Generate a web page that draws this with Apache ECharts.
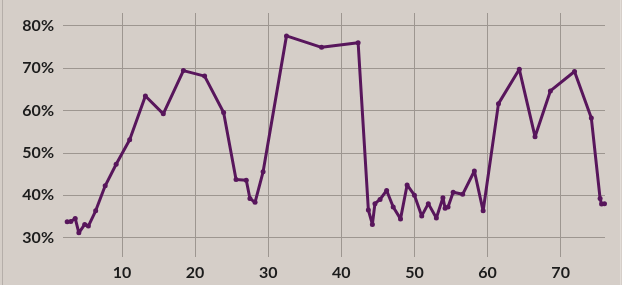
<!DOCTYPE html>
<html><head><meta charset="utf-8">
<script src="https://cdn.jsdelivr.net/npm/echarts@6/dist/echarts.min.js"></script>
<style>html,body{margin:0;padding:0;background:#d5cec8}#c{width:622px;height:285px}</style>
</head><body><div id="c"></div>
<script>
const xValues = [2.5,3.0,3.6,4.1,4.9,5.4,6.4,7.7,9.2,11.05,13.2,15.65,18.4,21.3,23.9,25.6,27.0,27.5,28.2,29.3,32.5,37.3,42.3,43.7,44.25,44.6,45.3,46.2,47.1,48.1,49.0,50.0,51.0,51.9,53.0,53.9,54.2,54.6,55.3,56.6,58.2,59.4,61.5,64.35,66.5,68.6,71.9,74.2,75.4,75.6,76.0];
const yValues = [33.7,33.8,34.5,31.1,33.1,32.7,36.3,42.2,47.3,53.1,63.4,59.2,69.4,68.1,59.5,43.7,43.5,39.2,38.3,45.5,77.6,74.9,76.0,36.5,33.1,38.0,39.0,41.1,37.2,34.4,42.4,40.0,35.1,38.0,34.6,39.4,36.9,37.2,40.7,40.2,45.7,36.3,61.6,69.7,53.8,64.6,69.2,58.2,39.2,37.9,38.0];
const xTicks = [10,20,30,40,50,60,70];
const yTicks = [30,40,50,60,70,80];

const chart = echarts.init(document.getElementById('c'), null, {renderer:'canvas'});
const grid = '#9d9690';
chart.setOption({
  backgroundColor:'#d5cec8',
  animation:false,
  grid:{left:63,right:17,top:13,bottom:28,containLabel:false},
  xAxis:{type:'value',min:1.93,max:76.07,
    axisLine:{show:false},
    axisTick:{show:false,customValues:xTicks},
    axisLabel:{customValues:xTicks,color:'#1c1c1c',fontFamily:'Lato',fontWeight:'bold',fontSize:16,margin:8},
    splitLine:{show:true,lineStyle:{color:grid,width:1}}},
  yAxis:{type:'value',min:25.4,max:83.0,
    axisLine:{show:false},
    axisTick:{show:false,customValues:yTicks},
    axisLabel:{customValues:yTicks,formatter:'{value}%',color:'#1c1c1c',fontFamily:'Lato',fontWeight:'bold',fontSize:16,margin:9},
    splitLine:{show:true,lineStyle:{color:grid,width:1}}},
  series:[{type:'line',data:xValues.map((x,i)=>[x,yValues[i]]),
    lineStyle:{color:'#58165c',width:3},
    itemStyle:{color:'#58165c'},
    symbol:'circle',symbolSize:5,showSymbol:true}],
  graphic:[
    {type:'rect',shape:{x:2,y:0,width:1,height:285},style:{fill:'#b5aea9'}},
    {type:'rect',shape:{x:620,y:0,width:1,height:285},style:{fill:'#e2dcd7'}}
  ]
});
</script></body></html>
